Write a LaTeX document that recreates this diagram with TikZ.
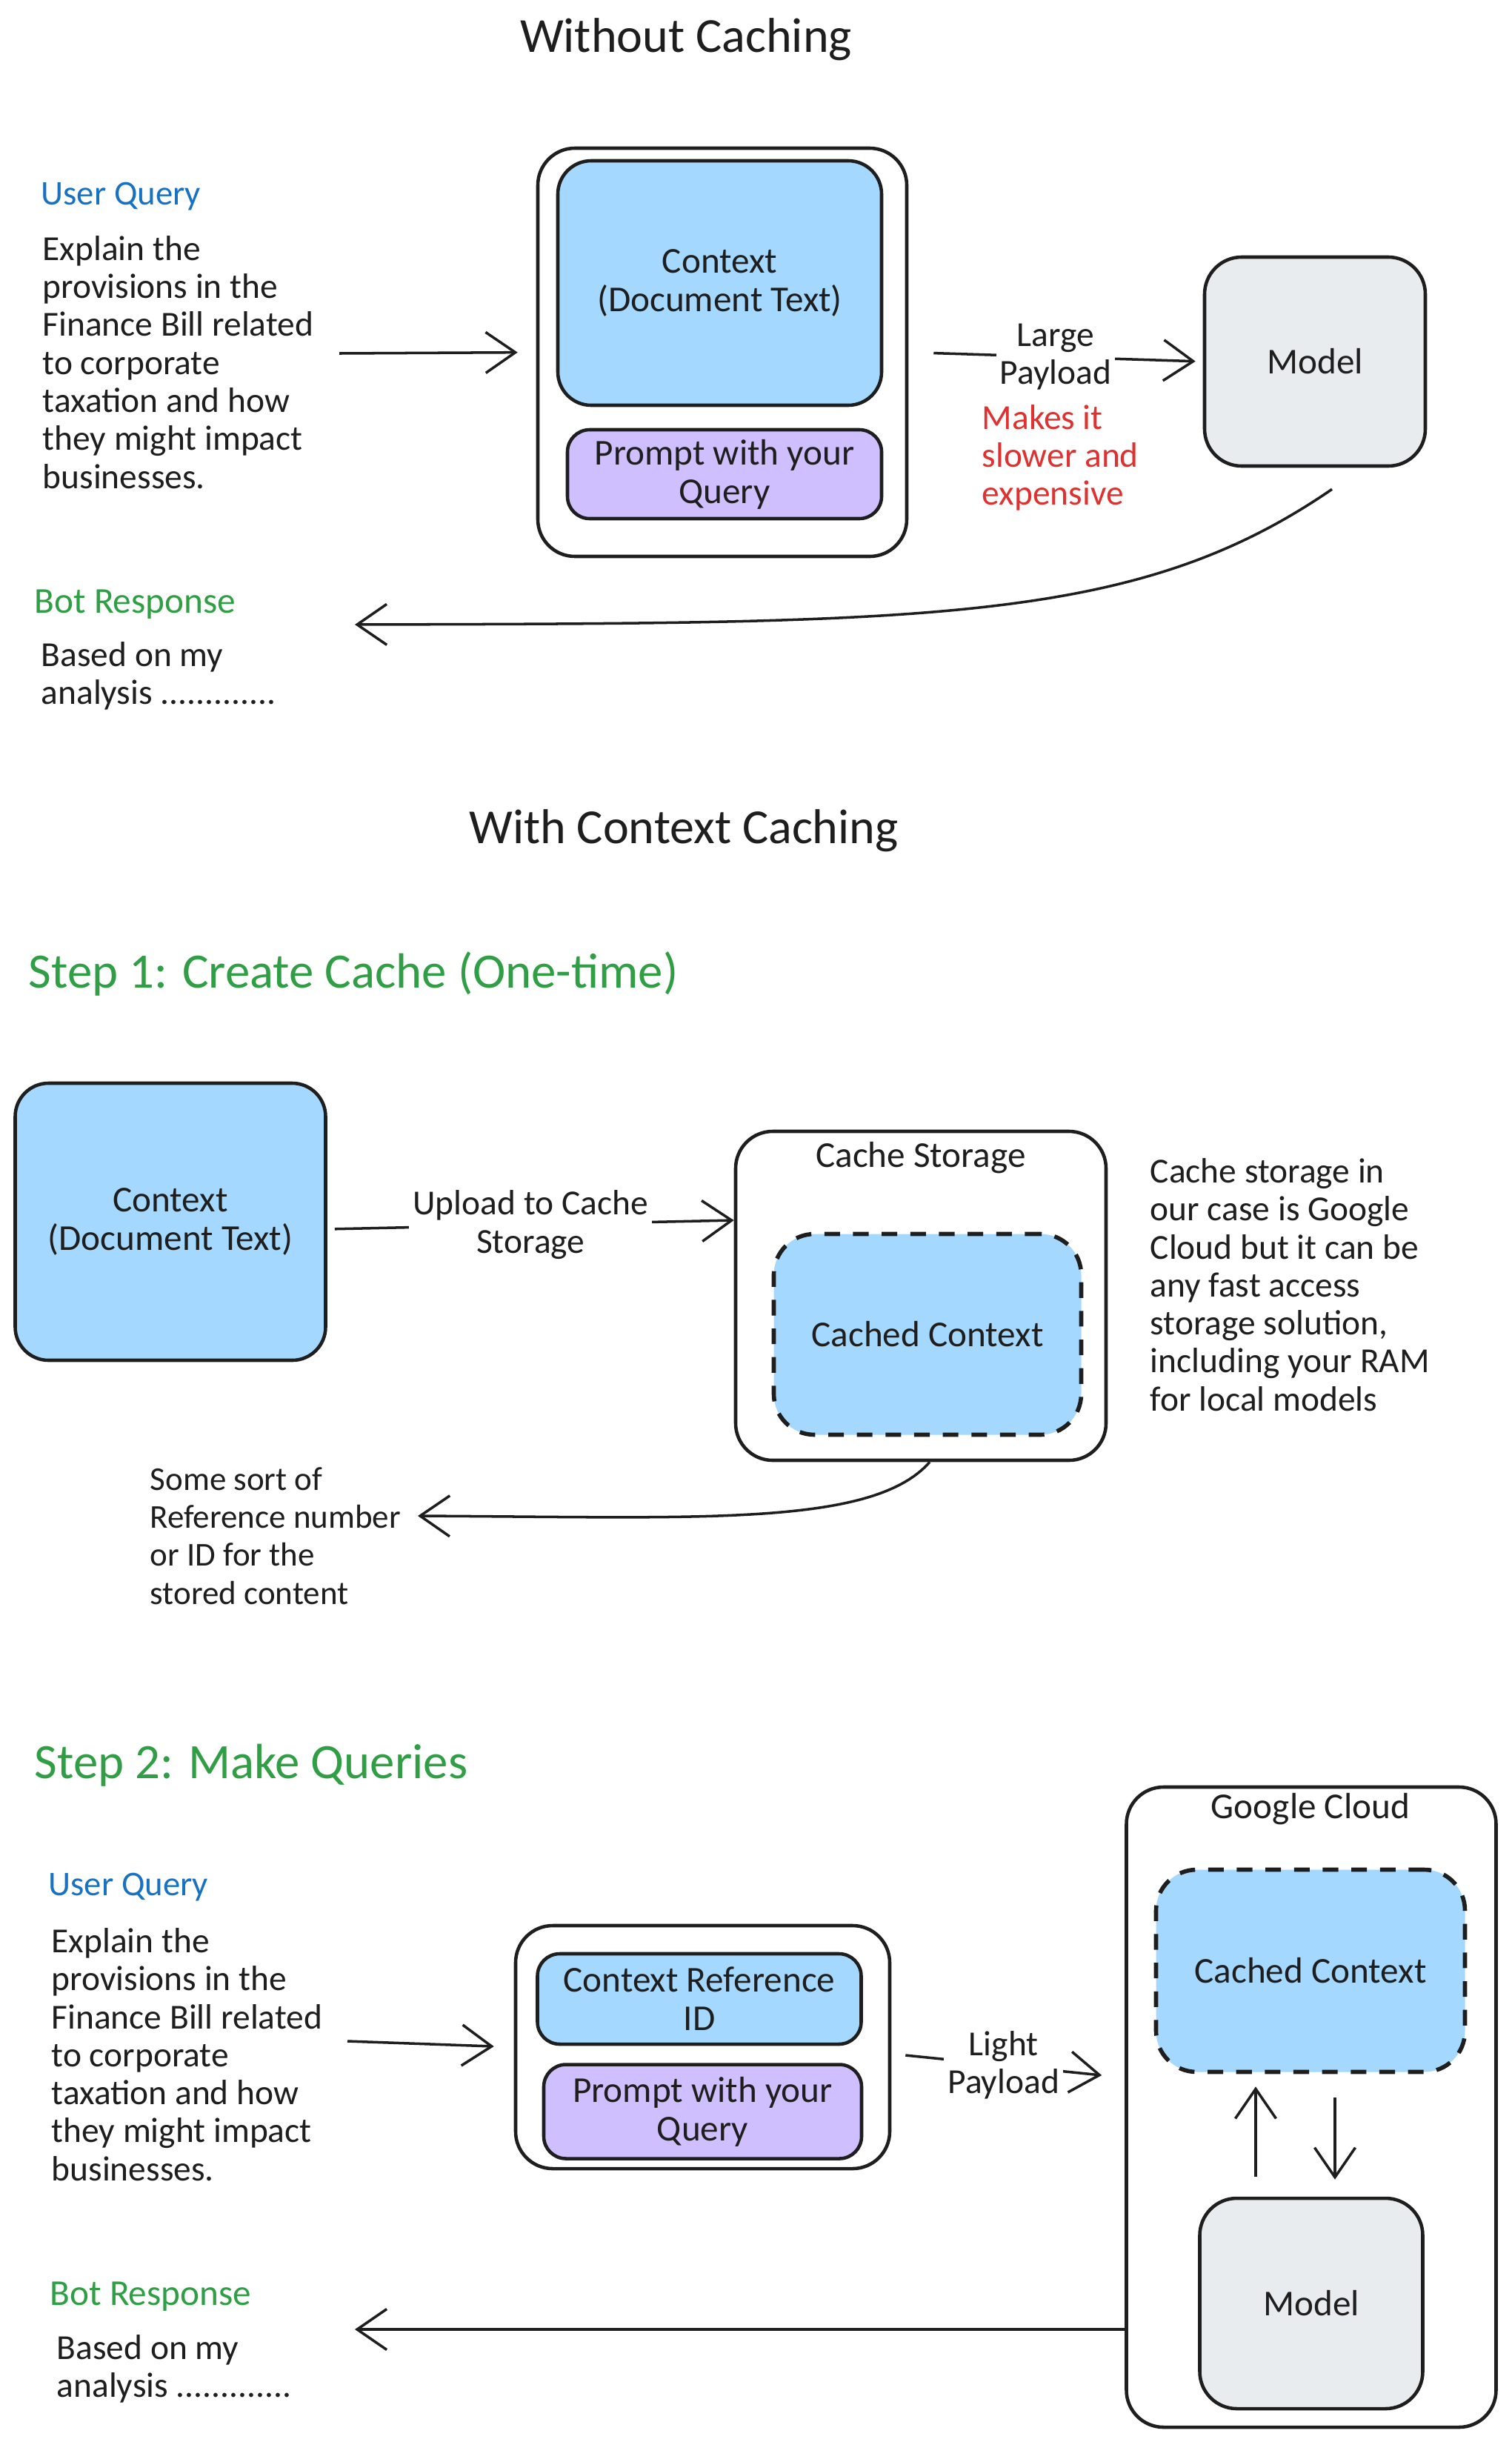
\documentclass[tikz,border=0pt]{standalone}
\usepackage{fontspec}
\setmainfont{Carlito}
\usetikzlibrary{arrows.meta}

\definecolor{ink}{HTML}{1E1E1E}
\definecolor{ctxblue}{HTML}{A5D8FF}
\definecolor{promptpurple}{HTML}{D0BFFF}
\definecolor{modelgrey}{HTML}{E9ECEF}
\definecolor{queryblue}{HTML}{1971C2}
\definecolor{answergreen}{HTML}{2F9E44}
\definecolor{warnred}{HTML}{E03131}

\newcommand{\txtbody}{\fontsize{13.5}{14.6}\selectfont}
\newcommand{\txtbox}{\fontsize{14}{14.8}\selectfont}
\newcommand{\txtlbl}{\fontsize{14}{16}\selectfont}
\newcommand{\txttitle}{\fontsize{18.8}{22}\selectfont}

\begin{document}
\begin{tikzpicture}[
	title/.style={text=ink, font=\txttitle, inner sep=0pt},
	steplbl/.style={text=answergreen, font=\fontsize{19}{22}\selectfont, anchor=west, inner sep=0pt},
	bluelbl/.style={text=queryblue, font=\fontsize{13.3}{16}\selectfont, anchor=west, inner sep=0pt},
	greenlbl/.style={text=answergreen, font=\txtlbl, anchor=west, inner sep=0pt},
	body/.style={text=ink, font=\txtbody, align=left, anchor=west, inner sep=0pt},
	boxtext/.style={text=ink, font=\txtbox, inner sep=0pt},
	frame/.style={draw=ink, fill=white, line width=1.3pt, rounded corners=0.5cm},
	box/.style={draw=ink, line width=1.3pt, rounded corners=0.45cm, align=center, text=ink, font=\txtbox, inner sep=2pt},
	dashbox/.style={box, line width=1.6pt, dash pattern=on 6pt off 5pt, fill=ctxblue, rounded corners=0.55cm},
	lbl/.style={fill=white, text=ink, font=\txtbody, align=center, inner sep=1.5pt},
	arr/.style={draw=ink, line width=1pt, -{Straight Barb[length=4mm,width=5.5mm]}}
]

	\path[use as bounding box, fill=white] (0,0) rectangle (20.4,-32.96);

	\node (t1) [title] at (9.26,-0.53) {Without Caching};

	\node (uq1) [bluelbl] at (0.55,-2.65) {User Query};
	\node (q1) [body] at (0.57,-4.89) {Explain the\\provisions in the\\Finance Bill related\\to corporate\\taxation and how\\they might impact\\businesses.};
	\coordinate (q1a) at (4.58,-4.77);

	\node (w1) [frame, minimum width=4.98cm, minimum height=5.51cm] at (9.75,-4.755) {};
	\node (ctx1) [box, fill=ctxblue, minimum width=4.37cm, minimum height=3.30cm] at (9.715,-3.82) {Context\\(Document Text)};
	\node (p1) [box, fill=promptpurple, rounded corners=0.3cm, minimum width=4.24cm, minimum height=1.20cm] at (9.78,-6.40) {Prompt with your\\Query};

	\node (m1) [box, fill=modelgrey, rounded corners=0.5cm, minimum width=2.98cm, minimum height=2.82cm] at (17.75,-4.88) {Model};
	\node (slow) [body, text=warnred] at (13.25,-6.18) {Makes it\\slower and\\expensive};

	\node (br1) [greenlbl] at (0.46,-8.16) {Bot Response};
	\node (a1) [body] at (0.55,-9.12) {Based on my\\analysis .............};
	\coordinate (r1e) at (4.79,-8.43);

	\path
	(q1a) edge[arr, shorten >=0.25cm] (w1.west)
	(w1.east) edge[arr, shorten <=0.34cm, shorten >=0.1cm] node[lbl] {Large\\Payload} (m1.west);

	\draw[arr] ([xshift=0.23cm,yshift=-0.29cm]m1.south) .. controls (15.35,-8.41) and (12.62,-8.41) .. (r1e);

	\node (t2) [title] at (9.23,-11.21) {With Context Caching};
	\node (s1) [steplbl] at (0.38,-13.14) {Step 1: Create Cache (One-time)};

	\node (ctx2) [box, fill=ctxblue, minimum width=4.19cm, minimum height=3.74cm] at (2.30,-16.49) {Context\\(Document Text)};
	\node (cs) [frame, minimum width=5.0cm, minimum height=4.44cm] at (12.43,-17.49) {};
	\node (csl) [boxtext] at (12.43,-15.63) {Cache Storage};
	\node (cc1) [dashbox, minimum width=4.15cm, minimum height=2.71cm] at (12.52,-18.01) {Cached Context};
	\node (note) [body] at (15.52,-17.34) {Cache storage in\\our case is Google\\Cloud but it can be\\any fast access\\storage solution,\\including your RAM\\for local models};

	\node (ref) [body, font=\fontsize{12.8}{14.6}\selectfont] at (2.02,-20.73) {Some sort of\\Reference number\\or ID for the\\stored content};
	\coordinate (refa) at (5.64,-20.46);

	\path
	([yshift=-0.1cm]ctx2.east) edge[arr, shorten <=0.1cm] node[lbl] {Upload to Cache\\Storage} ([yshift=1.02cm]cs.west);

	\draw[arr] ([xshift=0.12cm]cs.south) .. controls (11.78,-20.61) and (9.46,-20.48) .. (refa);

	\node (s2) [steplbl] at (0.46,-23.83) {Step 2: Make Queries};

	\node (gc) [frame, minimum width=4.99cm, minimum height=8.64cm] at (17.70,-28.44) {};
	\node (gcl) [boxtext] at (17.69,-24.42) {Google Cloud};
	\node (cc2) [dashbox, minimum width=4.17cm, minimum height=2.73cm] at (17.69,-26.60) {Cached Context};
	\node (m2) [box, fill=modelgrey, rounded corners=0.5cm, minimum width=3.01cm, minimum height=2.84cm] at (17.70,-31.09) {Model};

	\node (uq2) [bluelbl] at (0.65,-25.47) {User Query};
	\node (q2) [body] at (0.69,-27.73) {Explain the\\provisions in the\\Finance Bill related\\to corporate\\taxation and how\\they might impact\\businesses.};
	\coordinate (q2a) at (4.69,-27.55);

	\node (w2) [frame, minimum width=5.05cm, minimum height=3.28cm] at (9.485,-27.63) {};
	\node (rid) [box, fill=ctxblue, rounded corners=0.3cm, minimum width=4.37cm, minimum height=1.22cm] at (9.44,-26.98) {Context Reference\\ID};
	\node (p2) [box, fill=promptpurple, rounded corners=0.3cm, minimum width=4.29cm, minimum height=1.27cm] at (9.485,-28.50) {Prompt with your\\Query};

	\node (br2) [greenlbl] at (0.67,-31.00) {Bot Response};
	\node (a2) [body] at (0.76,-31.97) {Based on my\\analysis .............};
	\coordinate (r2e) at (4.79,-31.44);

	\path
	(q2a) edge[arr, shorten >=0.27cm] (w2.west)
	([xshift=0.19cm,yshift=-0.11cm]w2.east) edge[arr] node[lbl] {Light\\Payload} ([xshift=-0.31cm,yshift=0.43cm]gc.west)
	([xshift=-0.75cm,yshift=0.27cm]m2.north) edge[arr] ([xshift=-0.74cm,yshift=-0.17cm]cc2.south)
	([xshift=0.33cm,yshift=-0.32cm]cc2.south) edge[arr] ([xshift=0.32cm,yshift=0.23cm]m2.north)
	(gc.west |- r2e) edge[arr] (r2e);

\end{tikzpicture}
\end{document}
